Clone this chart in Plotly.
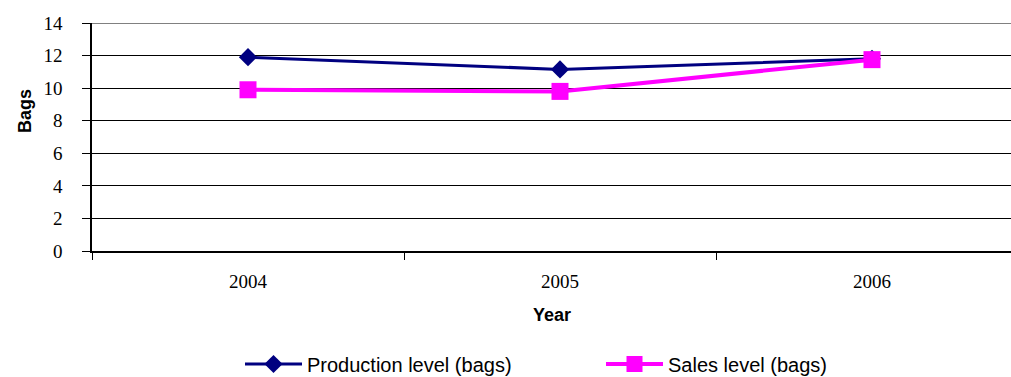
import plotly.graph_objects as go

# Chart data
years = ["2004", "2005", "2006"]
production = [11.9, 11.15, 11.8]
sales = [9.9, 9.8, 11.75]
y_ticks = [0, 2, 4, 6, 8, 10, 12, 14]

W, H = 1011, 377
M_L, M_R, M_T, M_B = 92, 0, 23, 126
plot_w = W - M_L - M_R
plot_h = H - M_T - M_B

fig = go.Figure()

fig.add_trace(go.Scatter(
    x=years, y=production, name="Production level (bags)",
    mode="lines+markers",
    line=dict(color="#000080", width=3),
    marker=dict(symbol="diamond", size=14, color="#000080"),
))
fig.add_trace(go.Scatter(
    x=years, y=sales, name="Sales level (bags)",
    mode="lines+markers",
    line=dict(color="#FF00FF", width=4),
    marker=dict(symbol="square", size=17, color="#FF00FF"),
))

serif = "Liberation Serif, Times New Roman, serif"
sans = "Liberation Sans, Arial, sans-serif"

fig.update_layout(
    width=W, height=H,
    margin=dict(l=M_L, r=M_R, t=M_T, b=M_B, pad=0, autoexpand=False),
    paper_bgcolor="white", plot_bgcolor="white",
    showlegend=True,
    legend=dict(
        orientation="h",
        xref="container", yref="container",
        x=240 / W, xanchor="left",
        y=(H - 364) / H, yanchor="middle",
        font=dict(family=sans, size=20, color="black"),
        itemwidth=57,
        entrywidth=289, entrywidthmode="pixels",
        bgcolor="rgba(0,0,0,0)",
        tracegroupgap=0,
    ),
    xaxis=dict(
        type="category",
        range=[-0.5, -0.5 + plot_w / 312],
        showgrid=False,
        showline=True, linecolor="black", linewidth=2,
        ticks="outside", tickson="boundaries", ticklen=7,
        tickcolor="black", tickwidth=1,
        tickfont=dict(family=serif, size=19, color="black"),
        ticklabelstandoff=12,
        zeroline=False,
        fixedrange=True,
    ),
    yaxis=dict(
        range=[0, 14],
        tickvals=y_ticks,
        showgrid=True, gridcolor="black", gridwidth=1,
        showline=True, linecolor="black", linewidth=1.5,
        ticks="outside", ticklen=8, tickcolor="black", tickwidth=1,
        tickfont=dict(family=serif, size=19, color="black"),
        ticklabelstandoff=16,
        zeroline=False,
        fixedrange=True,
    ),
    annotations=[
        dict(text="<b>Year</b>", xref="paper", yref="paper",
             x=0.5, y=-(315 - (M_T + plot_h)) / plot_h,
             xanchor="center", yanchor="middle", showarrow=False,
             font=dict(family=sans, size=18, color="black")),
        dict(text="<b>Bags</b>", xref="paper", yref="paper",
             x=-(M_L - 25) / plot_w, y=((M_T + plot_h) - 111) / plot_h,
             xanchor="center", yanchor="middle", showarrow=False,
             textangle=-90,
             font=dict(family=sans, size=18, color="black")),
    ],
    shapes=[
        # plot-area top border
        dict(type="line", xref="paper", yref="y", x0=0, x1=1, y0=14, y1=14,
             line=dict(color="#808080", width=2), layer="below"),
    ],
)

fig.write_html("out.html")
